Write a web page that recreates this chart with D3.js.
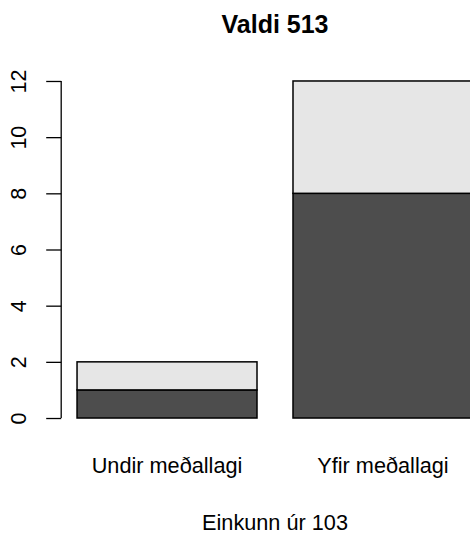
<!DOCTYPE html>
<html>
<head>
<meta charset="utf-8">
<script src="https://cdn.jsdelivr.net/npm/d3@7"></script>
<style>
  html, body { margin: 0; padding: 0; background: #fff; }
  svg { display: block; font-family: "Liberation Sans", Arial, sans-serif; }
</style>
</head>
<body>
<svg id="chart" width="470" height="537"></svg>
<script>
// Grade groups and counts per group (stacked: lower segment, upper segment)
const categories = ["Undir meðallagi", "Yfir meðallagi"];
const lowerCounts = [1, 8];
const upperCounts = [1, 4];
const yTicks = [0, 2, 4, 6, 8, 10, 12];
const title = "Valdi 513";
const xTitle = "Einkunn úr 103";

const svg = d3.select("#chart");

// Bar geometry in user units: width 1, gap 0.2 before each bar
const barWidth = 1, gap = 0.2;
const lefts = categories.map((_, i) => gap + i * (barWidth + gap));
const xMin = lefts[0], xMax = lefts[lefts.length - 1] + barWidth;
const xPad = (xMax - xMin) * 0.04;
const yMaxData = d3.max(categories, (_, i) => lowerCounts[i] + upperCounts[i]);
const yPad = yMaxData * 0.04;

const plot = { left: 61.2, right: 488.8, top: 67.5, bottom: 431.5 };
const x = d3.scaleLinear().domain([xMin - xPad, xMax + xPad]).range([plot.left, plot.right]);
const y = d3.scaleLinear().domain([-yPad, yMaxData + yPad]).range([plot.bottom, plot.top]);

const series = [
  { values: lowerCounts, base: categories.map(() => 0), fill: "#4d4d4d" },
  { values: upperCounts, base: lowerCounts, fill: "#e6e6e6" }
];

series.forEach(s => {
  svg.append("g").selectAll("rect")
    .data(categories)
    .join("rect")
    .attr("x", (_, i) => x(lefts[i]))
    .attr("width", (_, i) => x(lefts[i] + barWidth) - x(lefts[i]))
    .attr("y", (_, i) => y(s.base[i] + s.values[i]))
    .attr("height", (_, i) => y(s.base[i]) - y(s.base[i] + s.values[i]))
    .attr("fill", s.fill)
    .attr("stroke", "#000")
    .attr("stroke-width", 1.5);
});

// Left axis: spans the tick range only, labels parallel to the axis
const yAxis = d3.axisLeft(y).tickValues(yTicks).tickSize(15).tickPadding(0).tickFormat(d3.format("d"));
const gy = svg.append("g").attr("transform", `translate(${plot.left},0)`).call(yAxis);
gy.select(".domain").attr("d", `M0,${y(yTicks[0])}V${y(yTicks[yTicks.length - 1])}`)
  .attr("stroke", "#000").attr("stroke-width", 1.3);
gy.selectAll(".tick line").attr("stroke", "#000").attr("stroke-width", 1.3);
gy.selectAll(".tick text")
  .attr("x", null).attr("dy", null)
  .attr("transform", `translate(${26 - plot.left},0) rotate(-90)`)
  .attr("text-anchor", "middle")
  .attr("fill", "#000")
  .style("font-size", "21.5px")
  .style("font-family", "Liberation Sans, Arial, sans-serif");

// Category labels under each bar
svg.append("g").selectAll("text")
  .data(categories)
  .join("text")
  .attr("x", (_, i) => x(lefts[i] + barWidth / 2))
  .attr("y", 473)
  .attr("text-anchor", "middle")
  .style("font-size", "21.7px")
  .text(d => d);

// Title and axis title
svg.append("text")
  .attr("x", (plot.left + plot.right) / 2)
  .attr("y", 32.5)
  .attr("text-anchor", "middle")
  .style("font-size", "25px")
  .style("font-weight", "bold")
  .text(title);

svg.append("text")
  .attr("x", (plot.left + plot.right) / 2)
  .attr("y", 530)
  .attr("text-anchor", "middle")
  .style("font-size", "21.7px")
  .text(xTitle);
</script>
</body>
</html>
